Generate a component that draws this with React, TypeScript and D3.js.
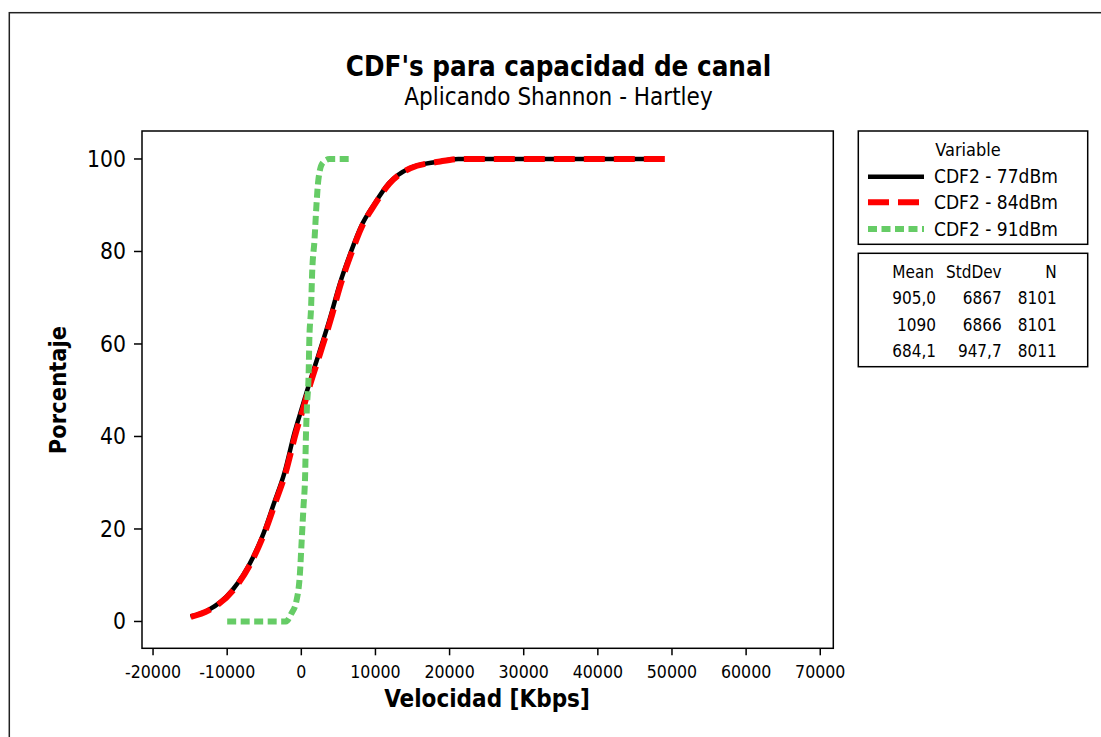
import React from "react";
import * as d3 from "d3";

// ---- data ----
const titleText = "CDF's para capacidad de canal";
const subtitleText = "Aplicando Shannon - Hartley";
const xLabel = "Velocidad [Kbps]";
const yLabel = "Porcentaje";

const xTicks = [-20000, -10000, 0, 10000, 20000, 30000, 40000, 50000, 60000, 70000];
const yTicks = [0, 20, 40, 60, 80, 100];

const seriesNames = ["CDF2 - 77dBm", "CDF2 - 84dBm", "CDF2 - 91dBm"];

const cdf77: [number, number][] = [
  [-14960, 1.1], [-12620, 2.4], [-9340, 6.7], [-6510, 13.9], [-5110, 19], [-3700, 25.5],
  [-2300, 32], [-890, 41], [50, 46], [990, 51], [2390, 58], [3800, 65.2], [5210, 73.1],
  [6620, 79.6], [8030, 85.3], [9900, 90.4], [11780, 94.7], [14600, 98], [18350, 99.4],
  [21160, 100], [48800, 100],
];
const cdf84: [number, number][] = [
  [-14900, 1.0], [-12500, 2.4], [-9200, 6.7], [-6400, 13.9], [-5000, 19], [-3550, 25.5],
  [-2150, 32], [-700, 41], [250, 46], [1150, 51], [2550, 58], [3950, 65.2], [5350, 73.1],
  [6750, 79.6], [8150, 85.3], [10000, 90.4], [11900, 94.7], [14700, 98], [18500, 99.4],
  [21300, 100], [49100, 100],
];
const cdf91: [number, number][] = [
  [-10000, 0], [-2070, 0], [-1350, 1.7], [-650, 4.5], [-190, 10.3], [50, 17.5], [290, 24.7],
  [520, 32], [610, 39.2], [760, 46.4], [990, 53.6], [1080, 60.8], [1320, 68], [1460, 75.3],
  [1780, 82.5], [2030, 89.7], [2300, 95.5], [2860, 99.1], [3800, 100], [6500, 100],
];

const statHeaders = ["Mean", "StdDev", "N"];
const statMean = ["905,0", "1090", "684,1"];
const statStdDev = ["6867", "6866", "947,7"];
const statN = ["8101", "8101", "8011"];

// ---- styles ----
const FONT = "'DejaVu Sans Condensed', 'DejaVu Sans', sans-serif";
const seriesStyles = [
  { color: "#000000", width: 4.5, dash: "none" },
  { color: "#FF0000", width: 6, dash: "21 9" },
  { color: "#66CC66", width: 6, dash: "9 4.5" },
];

export default function App() {
  const W = 1101;
  const H = 737;
  const plot = { left: 142, right: 833.3, top: 131, bottom: 648.3 };

  const x = d3.scaleLinear().domain([-21490, 71760]).range([plot.left, plot.right]);
  const y = d3.scaleLinear().domain([-5.8, 106.05]).range([plot.bottom, plot.top]);

  const line = d3
    .line<[number, number]>()
    .x((d) => x(d[0]))
    .y((d) => y(d[1]))
    .curve(d3.curveMonotoneX);

  const data = [cdf77, cdf84, cdf91];

  const txt = { fontFamily: FONT, fontStretch: "condensed" as const, fill: "#000" };

  const legendRows = [176.7, 202.3, 229];
  const statRows = [298, 325, 351];

  return (
    <svg width={W} height={H} style={{ position: "absolute", left: 0, top: 0, background: "#fff" }}>
      <rect x={0} y={0} width={W} height={H} fill="#fff" />
      {/* outer frame */}
      <rect x={9.3} y={12.7} width={1200} height={800} fill="none" stroke="#222" strokeWidth={1.5} />

      {/* titles */}
      <text x={558.5} y={76} textAnchor="middle" fontSize={27.5} fontWeight="bold" style={txt}>
        {titleText}
      </text>
      <text x={558.5} y={105} textAnchor="middle" fontSize={24} style={txt}>
        {subtitleText}
      </text>

      {/* plot frame */}
      <rect
        x={plot.left}
        y={plot.top}
        width={plot.right - plot.left}
        height={plot.bottom - plot.top}
        fill="none"
        stroke="#000"
        strokeWidth={1.5}
      />

      {/* y ticks */}
      {yTicks.map((t) => (
        <g key={"y" + t}>
          <line x1={plot.left - 8} x2={plot.left} y1={y(t)} y2={y(t)} stroke="#000" strokeWidth={1.5} />
          <text x={126} y={y(t) + 8} textAnchor="end" fontSize={22.7} style={txt}>
            {t}
          </text>
        </g>
      ))}
      {/* x ticks */}
      {xTicks.map((t) => (
        <g key={"x" + t}>
          <line x1={x(t)} x2={x(t)} y1={plot.bottom} y2={plot.bottom + 7} stroke="#000" strokeWidth={1.5} />
          <text x={x(t)} y={678} textAnchor="middle" fontSize={17.6} style={txt}>
            {t}
          </text>
        </g>
      ))}

      {/* axis labels */}
      <text x={487} y={707} textAnchor="middle" fontSize={24} fontWeight="bold" style={txt}>
        {xLabel}
      </text>
      <text
        transform={`translate(66,390) rotate(-90)`}
        textAnchor="middle"
        fontSize={23.5}
        fontWeight="bold"
        style={txt}
      >
        {yLabel}
      </text>

      {/* series */}
      <g>
        {data.map((d, i) => (
          <path
            key={i}
            d={line(d) || ""}
            fill="none"
            stroke={seriesStyles[i].color}
            strokeWidth={seriesStyles[i].width}
            strokeDasharray={seriesStyles[i].dash}
            strokeLinejoin="round"
          />
        ))}
      </g>

      {/* legend box */}
      <rect x={858.3} y={131} width={229.4} height={113.3} fill="#fff" stroke="#000" strokeWidth={1.5} />
      <text x={968} y={155.5} textAnchor="middle" fontSize={18} style={txt}>
        Variable
      </text>
      {seriesNames.map((n, i) => (
        <g key={n}>
          <line
            x1={868}
            x2={924}
            y1={legendRows[i]}
            y2={legendRows[i]}
            stroke={seriesStyles[i].color}
            strokeWidth={seriesStyles[i].width}
            strokeDasharray={seriesStyles[i].dash}
          />
          <text x={934} y={legendRows[i] + 6.5} fontSize={19} style={txt}>
            {n}
          </text>
        </g>
      ))}

      {/* stats box */}
      <rect x={858.3} y={253.3} width={229.4} height={113.4} fill="#fff" stroke="#000" strokeWidth={1.5} />
      <text x={934} y={278} textAnchor="end" fontSize={17} style={txt}>{statHeaders[0]}</text>
      <text x={1001.7} y={278} textAnchor="end" fontSize={17} style={txt}>{statHeaders[1]}</text>
      <text x={1056.7} y={278} textAnchor="end" fontSize={17} style={txt}>{statHeaders[2]}</text>
      {statRows.map((ry, i) => (
        <g key={"s" + i}>
          <text x={936} y={ry + 6} textAnchor="end" fontSize={17} style={txt}>{statMean[i]}</text>
          <text x={1001.7} y={ry + 6} textAnchor="end" fontSize={17} style={txt}>{statStdDev[i]}</text>
          <text x={1056.7} y={ry + 6} textAnchor="end" fontSize={17} style={txt}>{statN[i]}</text>
        </g>
      ))}
    </svg>
  );
}
